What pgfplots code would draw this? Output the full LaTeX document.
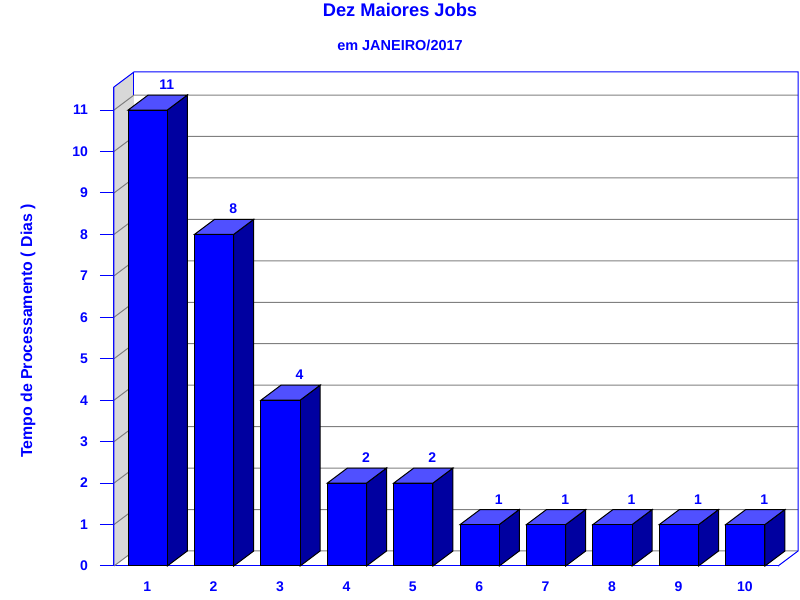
\documentclass[border=0pt]{standalone}
\usepackage{fontspec}
\setmainfont{Liberation Sans}
\usepackage{pgfplots}
\pgfplotsset{compat=1.18}
\definecolor{barfront}{HTML}{0000FF}
\definecolor{barside}{HTML}{0000A0}
\definecolor{bartop}{HTML}{5050FF}
\definecolor{wall}{HTML}{D8D8D8}
\definecolor{gridc}{HTML}{808080}
% depth of the 3D box in axis units: 20px across, 15px up
\def\dx{0.3012}
\def\dy{0.3619}
\def\hw{0.295}
% #1 category, #2 value
\newcommand{\threedbar}[2]{%
  \addplot[draw=black,line width=0.75pt,fill=barside] coordinates {({#1+\hw+0.008},0) ({#1+\hw+0.008+\dx},\dy) ({#1+\hw+0.008+\dx},{#2+\dy}) ({#1+\hw+0.008},#2)} --cycle;
  \addplot[draw=black,line width=0.75pt,fill=bartop] coordinates {({#1-\hw+0.008},#2) ({#1-\hw+0.008+\dx},{#2+\dy}) ({#1+\hw+0.008+\dx},{#2+\dy}) ({#1+\hw+0.008},#2)} --cycle;
  \addplot[draw=black,line width=0.75pt,fill=barfront] coordinates {({#1-\hw+0.008},0) ({#1-\hw+0.008},#2) ({#1+\hw+0.008},#2) ({#1+\hw+0.008},0)} --cycle;
  \node[text=barfront,font=\fontsize{10.5pt}{12pt}\bfseries] at (axis cs:{#1+0.295},#2) [yshift=19pt] {#2};
}
\begin{document}
\begin{tikzpicture}[x=0.75pt,y=0.75pt]
\useasboundingbox (-114,-34) rectangle (686,566);
\begin{axis}[
  at={(0,0)},anchor=south west,
  scale only axis,
  width=498pt,height=359.25pt,
  xmin=0.5,xmax=10.5,ymin=0,ymax=11.556,
  clip=false,
  axis x line=bottom,axis y line=left,
  axis line style={barfront,-,line width=0.75pt},
  xtick={1,...,10},ytick={0,...,11},
  tick style={barfront,line width=0.75pt},
  major tick length=10.5pt,
  xtick style={draw=none},
  tick align=outside,
  tick label style={text=barfront,font=\fontsize{10.5pt}{12pt}\bfseries},
  /pgf/number format/assume math mode=true,
  yticklabel style={xshift=-5.5pt},
  xticklabel style={yshift=2.2pt},
]
% walls
\fill[wall] (axis cs:0.5,0) -- (axis cs:{0.5+\dx},\dy) -- (axis cs:{0.5+\dx},{11.556+\dy}) -- (axis cs:0.5,11.556) -- cycle;
\foreach \v in {0,...,11} {
  \edef\tmp{\noexpand\draw[gridc,line width=0.75pt] (axis cs:0.5,\v) -- (axis cs:{0.5+\dx},{\v+\dy}) -- (axis cs:{10.5+\dx},{\v+\dy});}
  \tmp
}
\draw[barfront,line width=0.75pt] (axis cs:0.5,0) -- (axis cs:0.5,11.556) -- (axis cs:{0.5+\dx},{11.556+\dy}) -- (axis cs:{10.5+\dx},{11.556+\dy}) -- (axis cs:{10.5+\dx},\dy) -- (axis cs:10.5,0);
\draw[barfront,line width=0.75pt] (axis cs:{0.5+\dx},{11.556+\dy}) -- (axis cs:{0.5+\dx},{11+\dy});

\threedbar{1}{11}
\threedbar{2}{8}
\threedbar{3}{4}
\threedbar{4}{2}
\threedbar{5}{2}
\threedbar{6}{1}
\threedbar{7}{1}
\threedbar{8}{1}
\threedbar{9}{1}
\threedbar{10}{1}
\end{axis}
\node[text=barfront,font=\fontsize{13.7pt}{15pt}\bfseries] at (286,556) {Dez Maiores Jobs};
\node[text=barfront,font=\fontsize{10.85pt}{12pt}\bfseries] at (286,521) {em JANEIRO/2017};
\node[text=barfront,font=\fontsize{11.9pt}{13pt}\bfseries,rotate=90] at (-86,235) {Tempo de Processamento ( Dias )};
\end{tikzpicture}
\end{document}
